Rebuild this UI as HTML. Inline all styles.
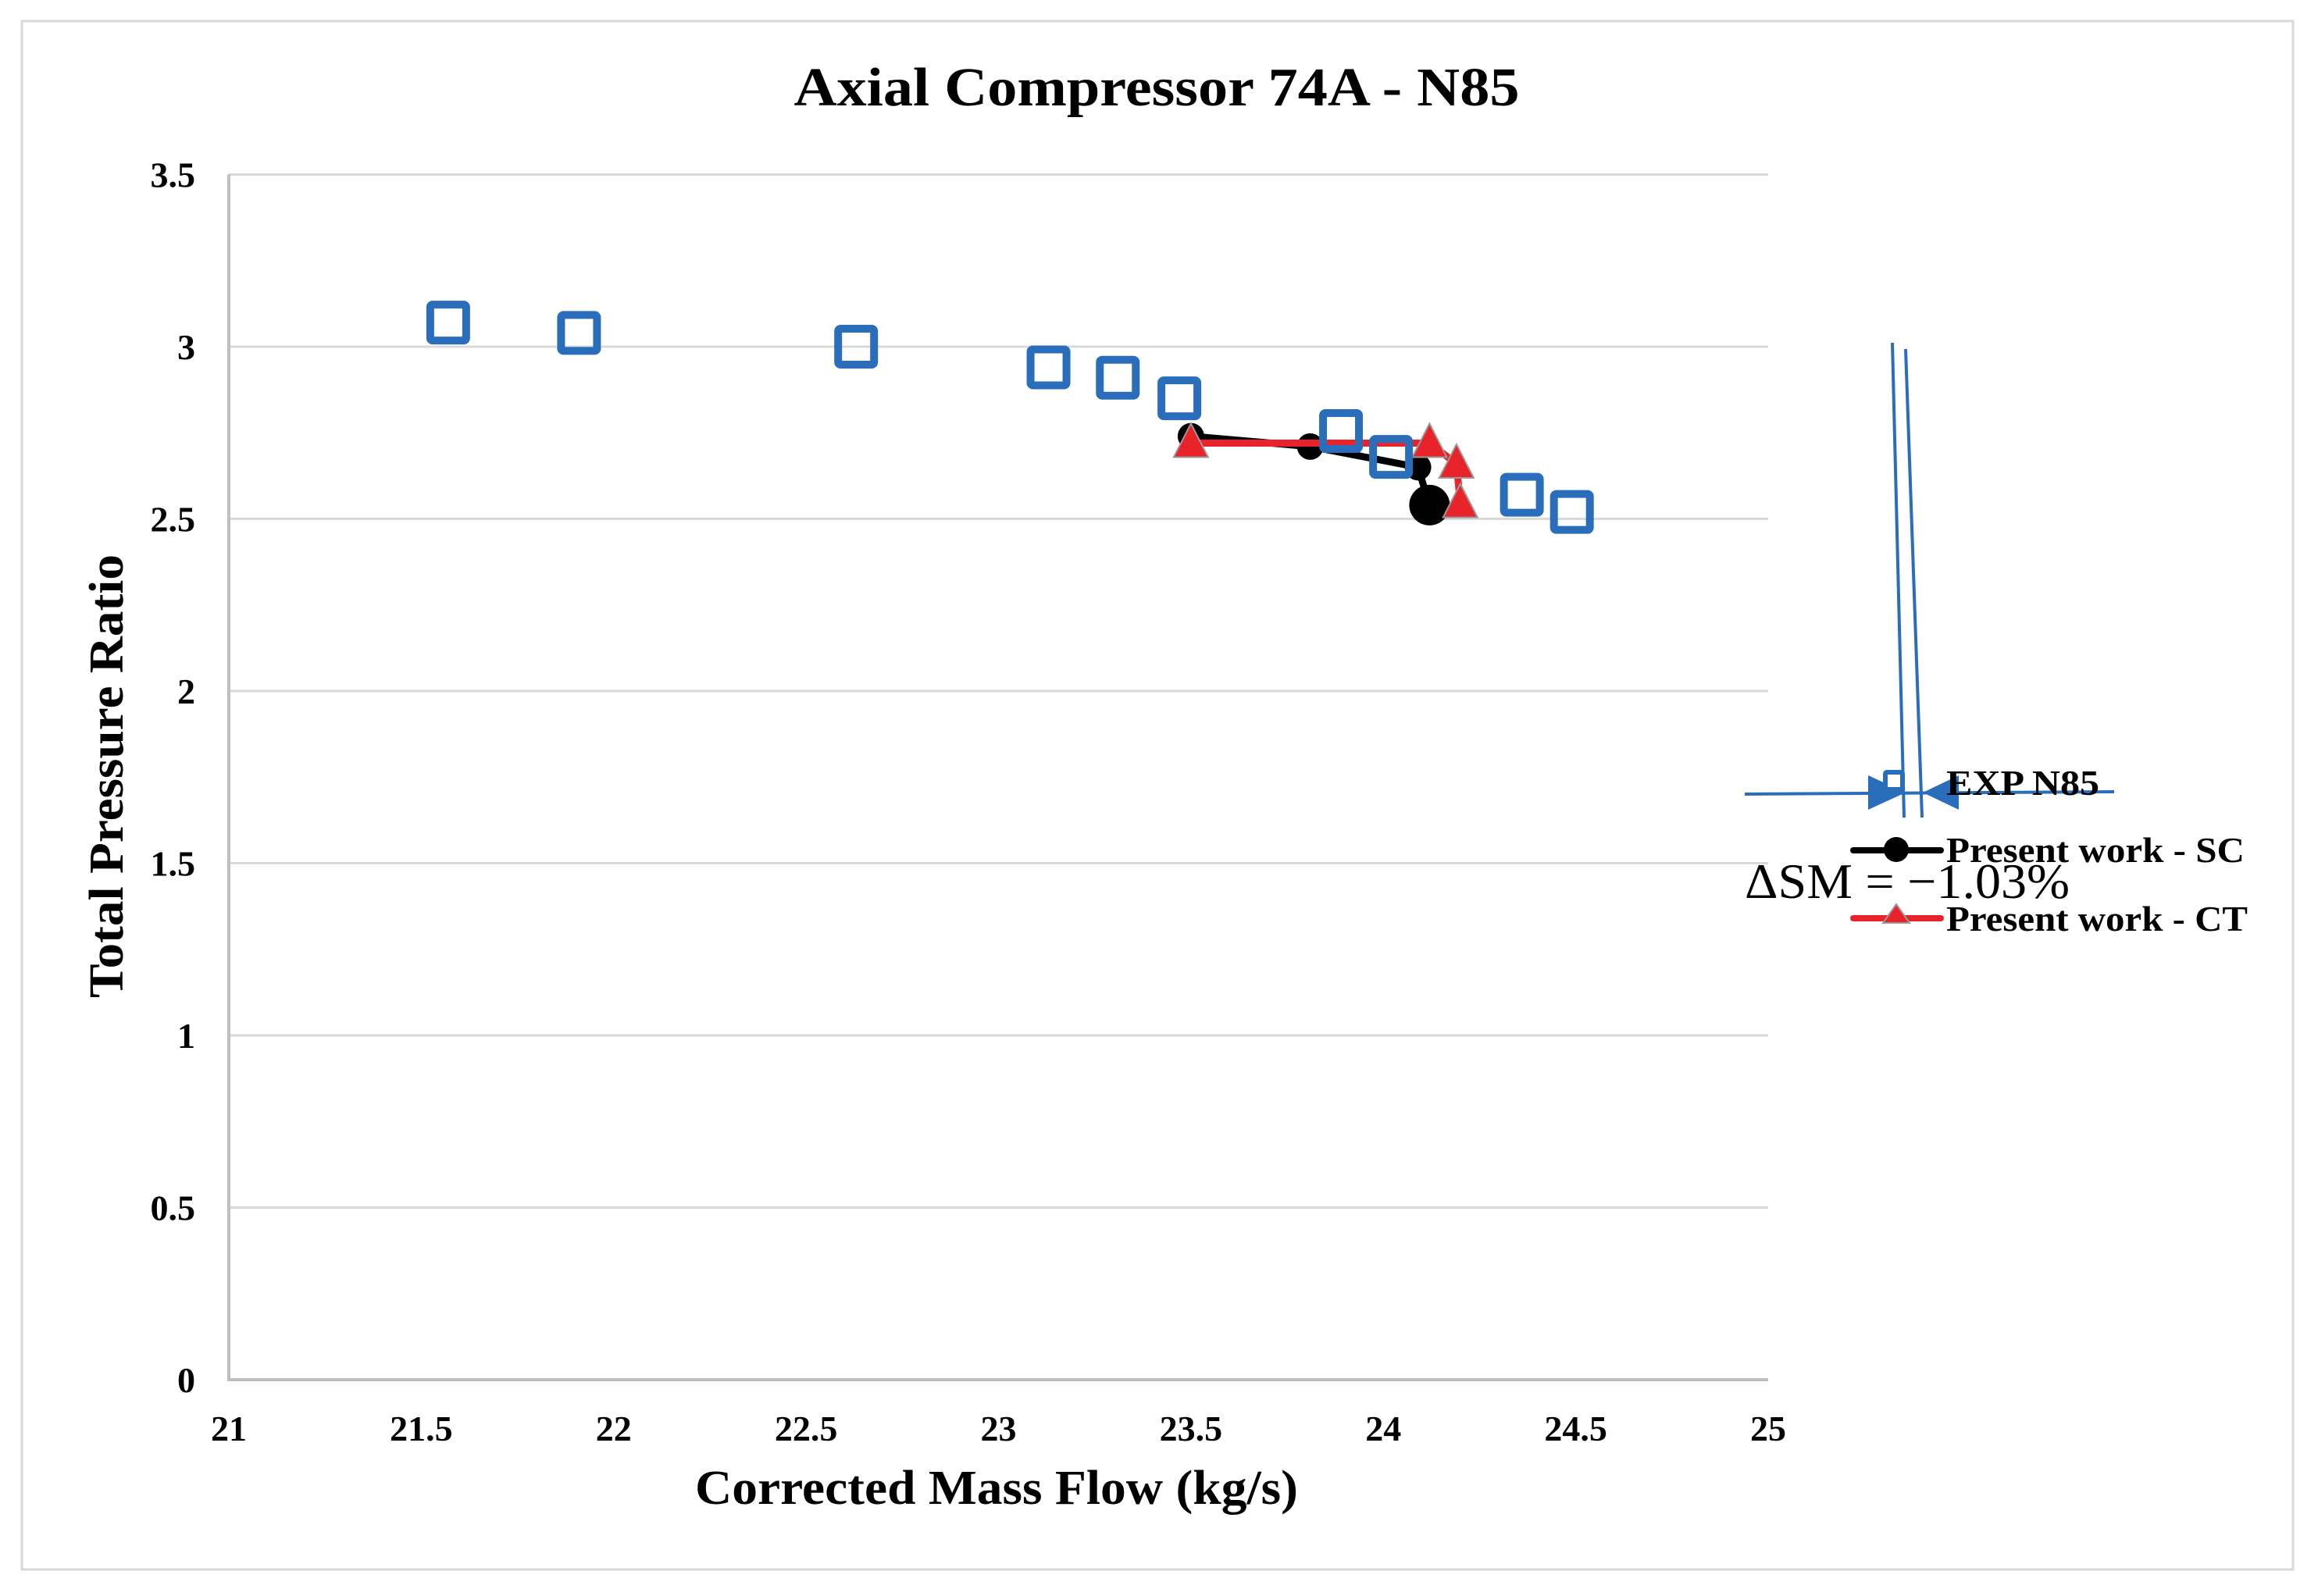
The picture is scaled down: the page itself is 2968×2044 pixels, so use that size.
<!DOCTYPE html>
<html><head><meta charset="utf-8"><style>
html,body{margin:0;padding:0;background:#fff;}
svg{display:block;}
text{font-family:"Liberation Serif",serif;font-weight:bold;fill:#000;}
</style></head>
<body>
<svg id="chart" width="2968" height="2044" viewBox="0 0 2968 2044" xmlns="http://www.w3.org/2000/svg">
<rect x="28" y="27" width="2908" height="1983" fill="#fff" stroke="#d9d9d9" stroke-width="3"/>
<text x="1481" y="135" font-size="70" text-anchor="middle" textLength="929" lengthAdjust="spacingAndGlyphs">Axial Compressor  74A - N85</text>
<g id="grid"></g>
<g id="axes"></g>
<g id="series"></g>
<text x="1276" y="1926" font-size="62" text-anchor="middle" textLength="772" lengthAdjust="spacingAndGlyphs">Corrected  Mass Flow (kg/s)</text>
<text x="0" y="0" font-size="62" text-anchor="middle" textLength="568" lengthAdjust="spacingAndGlyphs" transform="translate(157,994) rotate(-90)">Total  Pressure Ratio</text>
<g stroke="#2a6ebb" stroke-width="4" fill="none">
<line x1="2423" y1="439" x2="2438" y2="1047"/>
<line x1="2440" y1="447" x2="2461" y2="1047"/>
<line x1="2234" y1="1017" x2="2707" y2="1014"/>
</g>
<polygon points="2392,993 2440,1015 2392,1037" fill="#2a6ebb"/>
<polygon points="2508,993 2462,1015 2508,1037" fill="#2a6ebb"/>
<g>
<rect x="2414" y="989" width="22" height="22" fill="#fff" stroke="#2a6ebb" stroke-width="6" rx="2"/>
<text x="2492" y="1018" font-size="46" textLength="196" lengthAdjust="spacingAndGlyphs">EXP N85</text>
<line x1="2373" y1="1089" x2="2485" y2="1089" stroke="#000" stroke-width="8" stroke-linecap="round"/>
<circle cx="2428" cy="1088" r="16" fill="#000"/>
<text x="2492" y="1104" font-size="46" textLength="382" lengthAdjust="spacingAndGlyphs">Present work - SC</text>
<line x1="2373" y1="1176" x2="2485" y2="1176" stroke="#e8232a" stroke-width="8" stroke-linecap="round"/>
<polygon points="2428,1158 2445,1182 2411,1182" fill="#e8232a" stroke="#999" stroke-width="2"/>
<text x="2492" y="1192" font-size="46" textLength="386" lengthAdjust="spacingAndGlyphs">Present work - CT</text>
</g>
<text x="2234" y="1150" font-size="64" style="font-weight:normal" textLength="416" lengthAdjust="spacingAndGlyphs">ΔSM = −1.03%</text>
</svg>
<script>
const xTicks=[21,21.5,22,22.5,23,23.5,24,24.5,25];
const yTicks=[0,0.5,1,1.5,2,2.5,3,3.5];
const expX=[21.57,21.91,22.63,23.13,23.31,23.47,23.89,24.02,24.36,24.49];
const expY=[3.07,3.04,3.00,2.94,2.91,2.85,2.755,2.68,2.57,2.52];
const scX=[23.50,23.81,24.09,24.12];
const scY=[2.74,2.71,2.65,2.54];
const ctX=[23.50,24.12,24.19,24.20];
const ctY=[2.72,2.72,2.66,2.545];
const NS='http://www.w3.org/2000/svg';
function sx(v){return 293+(v-21)*492.75;}
function sy(v){return 1767-v*441;}
function mk(tag,attrs,parent){const e=document.createElementNS(NS,tag);for(const k in attrs)e.setAttribute(k,attrs[k]);parent.appendChild(e);return e;}
const grid=document.getElementById('grid'),axes=document.getElementById('axes'),series=document.getElementById('series');
yTicks.forEach(function(t){
  if(t>0){const g=mk('line',{x1:sx(21),x2:sx(25),y1:sy(t),y2:sy(t),stroke:'#d9d9d9','stroke-width':3},grid);
  
  }
  const l=mk('text',{x:250,y:sy(t)+16,'font-size':46,'text-anchor':'end'},axes);
  l.textContent=String(t);
  
  
});
xTicks.forEach(function(t){
  const l=mk('text',{x:sx(t),y:1845,'font-size':46,'text-anchor':'middle'},axes);
  l.textContent=String(t);
  
  
});
const ax=mk('polyline',{points:sx(21)+','+sy(3.5)+' '+sx(21)+','+sy(0)+' '+sx(25)+','+sy(0),fill:'none',stroke:'#bfbfbf','stroke-width':4},axes);


const scl=mk('polyline',{points:scX.map(function(x,i){return sx(x)+','+sy(scY[i]);}).join(' '),fill:'none',stroke:'#000','stroke-width':9},series);


scX.forEach(function(x,i){
  const c=mk('circle',{cx:sx(x),cy:sy(scY[i]),r:(i==3?26:17),fill:'#000'},series);
  
  
});
const ctl=mk('polyline',{points:ctX.map(function(x,i){return sx(x)+','+sy(ctY[i]);}).join(' '),fill:'none',stroke:'#e8232a','stroke-width':9},series);


ctX.forEach(function(x,i){
  const px=sx(x),py=sy(ctY[i]);
  const p=mk('polygon',{points:px+','+(py-25)+' '+(px+22)+','+(py+18)+' '+(px-22)+','+(py+18),fill:'#e8232a',stroke:'#999','stroke-width':2},series);
  
  
});
expX.forEach(function(x,i){
  const r=mk('rect',{x:sx(x)-23,y:sy(expY[i])-23,width:46,height:46,rx:3,fill:'none',stroke:'#2a6ebb','stroke-width':10},series);
  
  
});
</script>
</body></html>
